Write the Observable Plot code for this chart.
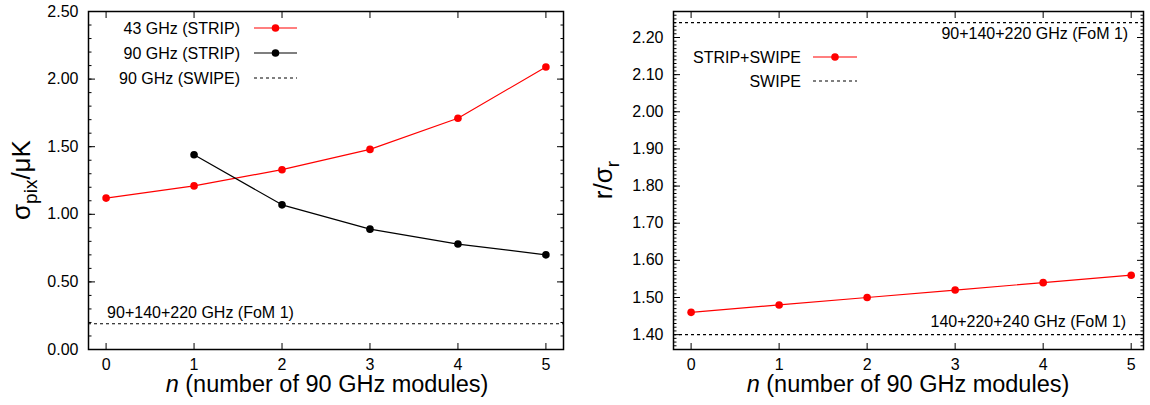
<!DOCTYPE html>
<html><head><meta charset="utf-8">
<script src="https://cdn.jsdelivr.net/npm/d3@7"></script>
<script src="https://cdn.jsdelivr.net/npm/@observablehq/plot@0.6"></script>
<style>
body{margin:0;background:#fff;}
#wrap{display:flex;width:1150px;height:405px;}
svg{display:block;overflow:visible}
</style></head><body><div id="wrap"></div>
<script>
// ---- data ----
const n = [0, 1, 2, 3, 4, 5];
const sigma43Strip = [1.12, 1.21, 1.33, 1.48, 1.71, 2.09];
const n90 = [1, 2, 3, 4, 5];
const sigma90Strip = [1.44, 1.07, 0.89, 0.78, 0.70];
const sigma90Swipe = 0.19;
const leftAnnot = "90+140+220 GHz (FoM 1)";

const rOverSigmaCombined = [1.46, 1.48, 1.50, 1.52, 1.54, 1.56];
const rSwipeTop = 2.24;
const rSwipeBottom = 1.40;
const rightAnnotTop = "90+140+220 GHz (FoM 1)";
const rightAnnotBottom = "140+220+240 GHz (FoM 1)";

const xTicks = [0, 1, 2, 3, 4, 5];
const leftYTicks = [0, 0.5, 1.0, 1.5, 2.0, 2.5];
const leftYMinor = d3.range(0, 26).map(i => i / 10);
const rightYTicks = [1.4, 1.5, 1.6, 1.7, 1.8, 1.9, 2.0, 2.1, 2.2];
const rightYMinor = d3.range(136, 228).map(i => i / 100);
const xTitle = ["n", " (number of 90 GHz modules)"];

const FONT = "'Liberation Sans', Arial, Helvetica, sans-serif";
const fmt = d3.format(".2f");
const blank = () => "";

function axes(yTicks, yMinor) {
  return [
    Plot.axisX(xTicks, {anchor: "bottom", tickSize: -6, tickPadding: 15, label: null, tickFormat: d => String(d), fontSize: 16}),
    Plot.axisX(xTicks, {anchor: "top", tickSize: -6, label: null, tickFormat: blank}),
    Plot.axisY(yTicks, {anchor: "left", tickSize: -7, tickPadding: 17, label: null, tickFormat: fmt, fontSize: 16}),
    Plot.axisY(yTicks, {anchor: "right", tickSize: -7, label: null, tickFormat: blank}),
    Plot.axisY(yMinor, {anchor: "left", tickSize: -3.5, label: null, tickFormat: blank}),
    Plot.axisY(yMinor, {anchor: "right", tickSize: -3.5, label: null, tickFormat: blank})
  ];
}

const left = Plot.plot({
  width: 575, height: 405,
  marginLeft: 88, marginRight: 12, marginTop: 11, marginBottom: 56,
  x: {domain: [-0.2, 5.2]},
  y: {domain: [0, 2.5]},
  style: {fontFamily: FONT, fontSize: "16px", color: "#000", background: "#fff"},
  marks: [
    ...axes(leftYTicks, leftYMinor),
    Plot.ruleY([sigma90Swipe], {stroke: "#000", strokeWidth: 1.1, strokeDasharray: "3,3"}),
    Plot.text([leftAnnot], {x: 0, y: sigma90Swipe, text: d => d, dy: -11, dx: 1, textAnchor: "start", fontSize: 16}),
    Plot.line(n, {x: d => d, y: (d, i) => sigma43Strip[i], stroke: "#ff0000", strokeWidth: 1.2}),
    Plot.dot(n, {x: d => d, y: (d, i) => sigma43Strip[i], fill: "#ff0000", r: 3.8}),
    Plot.line(n90, {x: d => d, y: (d, i) => sigma90Strip[i], stroke: "#000", strokeWidth: 1.2}),
    Plot.dot(n90, {x: d => d, y: (d, i) => sigma90Strip[i], fill: "#000", r: 3.8}),
    Plot.frame({stroke: "#000", strokeWidth: 1.5})
  ]
});

const right = Plot.plot({
  width: 575, height: 405,
  marginLeft: 98, marginRight: 7, marginTop: 11, marginBottom: 56,
  x: {domain: [-0.2, 5.14]},
  y: {domain: [1.36, 2.27]},
  style: {fontFamily: FONT, fontSize: "16px", color: "#000", background: "#fff"},
  marks: [
    ...axes(rightYTicks, rightYMinor),
    Plot.ruleY([rSwipeTop, rSwipeBottom], {stroke: "#000", strokeWidth: 1.1, strokeDasharray: "3,3"}),
    Plot.text([rightAnnotTop], {x: 5, y: rSwipeTop, text: d => d, dy: 11, dx: -3, textAnchor: "end", fontSize: 16}),
    Plot.text([rightAnnotBottom], {x: 5, y: rSwipeBottom, text: d => d, dy: -13, dx: -5, textAnchor: "end", fontSize: 16}),
    Plot.line(n, {x: d => d, y: (d, i) => rOverSigmaCombined[i], stroke: "#ff0000", strokeWidth: 1.2}),
    Plot.dot(n, {x: d => d, y: (d, i) => rOverSigmaCombined[i], fill: "#ff0000", r: 3.8}),
    Plot.frame({stroke: "#000", strokeWidth: 1.5})
  ]
});

function addXTitle(svg, cx) {
  const t = d3.select(svg).append("text")
    .attr("x", cx).attr("y", 392).attr("text-anchor", "middle")
    .style("font-family", FONT).style("font-size", "23.5px").attr("fill", "#000");
  t.append("tspan").style("font-style", "italic").text(xTitle[0]);
  t.append("tspan").text(xTitle[1]);
}
function addYTitle(svg, cx, main, sub, rest) {
  const t = d3.select(svg).append("text")
    .attr("transform", `translate(${cx},180) rotate(-90)`).attr("text-anchor", "middle")
    .style("font-family", FONT).style("font-size", "26px").attr("fill", "#000");
  t.append("tspan").text(main);
  t.append("tspan").attr("dy", 7).style("font-size", "19px").text(sub);
  if (rest) t.append("tspan").attr("dy", -7).text(rest);
}
function addLegend(svg, rows, textRight, x1, x2) {
  const g = d3.select(svg).append("g").style("font-family", FONT).style("font-size", "16px");
  rows.forEach(r => {
    g.append("text").attr("x", textRight).attr("y", r.y).attr("dy", "0.35em")
      .attr("text-anchor", "end").attr("fill", "#000").text(r.label);
    g.append("line").attr("x1", x1).attr("x2", x2).attr("y1", r.y).attr("y2", r.y)
      .attr("stroke", r.color).attr("stroke-width", r.dash ? 1.1 : 1.2)
      .attr("stroke-dasharray", r.dash ? "3,3" : null);
    if (!r.dash) g.append("circle").attr("cx", (x1 + x2) / 2).attr("cy", r.y).attr("r", 3.8).attr("fill", r.color);
  });
}

addXTitle(left, 327);
addYTitle(left, 30, "σ", "pix", "/μK");
addLegend(left, [
  {label: "43 GHz (STRIP)", color: "#ff0000", y: 28},
  {label: "90 GHz (STRIP)", color: "#000", y: 53},
  {label: "90 GHz (SWIPE)", color: "#000", y: 78, dash: true}
], 240, 254, 297);

addXTitle(right, 333);
addYTitle(right, 37, "r/σ", "r", null);
addLegend(right, [
  {label: "STRIP+SWIPE", color: "#ff0000", y: 57},
  {label: "SWIPE", color: "#000", y: 81, dash: true}
], 226, 238, 282);

document.getElementById("wrap").append(left, right);
</script>
</body></html>
